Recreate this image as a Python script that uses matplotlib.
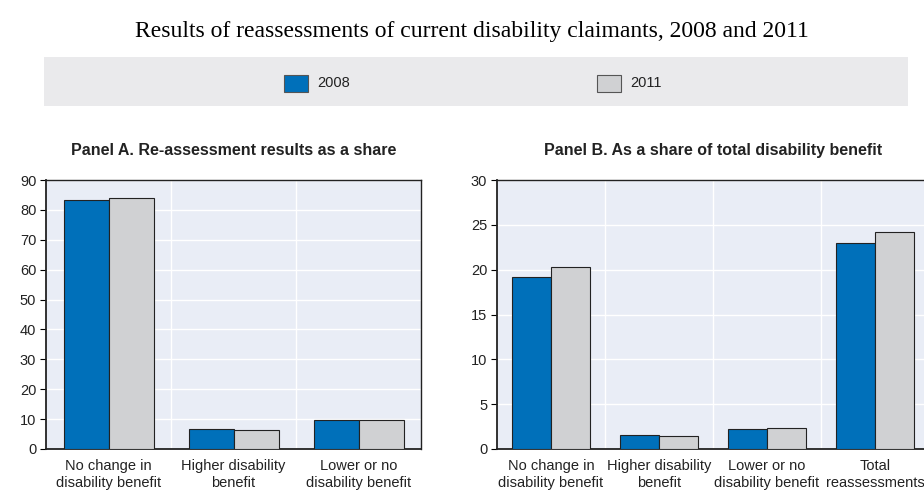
import matplotlib
matplotlib.use("Agg")
import matplotlib.pyplot as plt
from matplotlib.patches import Rectangle
import numpy as np

years = ["2008", "2011"]
cats_a = ["No change in\ndisability benefit", "Higher disability\nbenefit", "Lower or no\ndisability benefit"]
a_2008 = [83.4, 6.8, 9.8]
a_2011 = [84.1, 6.2, 9.7]
cats_b = ["No change in\ndisability benefit", "Higher disability\nbenefit", "Lower or no\ndisability benefit", "Total\nreassessments"]
b_2008 = [19.2, 1.56, 2.23, 22.95]
b_2011 = [20.35, 1.49, 2.34, 24.25]
yticks_a = [0, 10, 20, 30, 40, 50, 60, 70, 80, 90]
yticks_b = [0, 5, 10, 15, 20, 25, 30]

BLUE = "#0070BA"
GRAY = "#D0D1D3"
BG = "#E9EDF6"
SANS = ["Liberation Sans", "DejaVu Sans"]

W, H = 924, 492
fig = plt.figure(figsize=(W / 100, H / 100), dpi=100)

fig.text(472 / W, 1 - 31 / H, "Results of reassessments of current disability claimants, 2008 and 2011",
         ha="center", va="center", fontsize=17, family=["Liberation Serif", "DejaVu Serif"])

# legend band
fig.patches.append(Rectangle((44 / W, 1 - 106 / H), (908 - 44) / W, 49 / H,
                             transform=fig.transFigure, facecolor="#EAEAEC", edgecolor="none", zorder=0))
for x0, lab, col in [(284, years[0], BLUE), (597, years[1], GRAY)]:
    fig.patches.append(Rectangle((x0 / W, 1 - 92 / H), 24 / W, 17 / H, transform=fig.transFigure,
                                 facecolor=col, edgecolor="#555555", lw=0.8, zorder=2))
    fig.text((x0 + 33) / W, 1 - 83 / H, lab, ha="left", va="center", fontsize=10.5, family=SANS,
             color="#222222")


def panel(rect, cats, v1, v2, yt, title):
    ax = fig.add_axes(rect)
    n = len(cats)
    x = np.arange(n)
    w = 0.36
    ax.bar(x - w / 2, v1, w, color=BLUE, edgecolor="#222222", lw=0.8, zorder=3)
    ax.bar(x + w / 2, v2, w, color=GRAY, edgecolor="#222222", lw=0.8, zorder=3)
    ax.set_xlim(-0.5, n - 0.5)
    ax.set_ylim(yt[0], yt[-1])
    ax.set_yticks(yt)
    ax.set_facecolor(BG)
    ax.set_xticks(x)
    ax.set_xticklabels(cats, fontsize=10.5, family=SANS, linespacing=1.3, color="#222222")
    ax.set_xticks(np.arange(n - 1) + 0.5, minor=True)
    ax.grid(True, which="minor", axis="x", color="white", lw=1, zorder=1)
    ax.grid(True, which="major", axis="y", color="white", lw=1, zorder=1)
    ax.tick_params(axis="x", which="both", length=0, pad=7)
    ax.tick_params(axis="y", length=4, width=0.8, pad=3, labelsize=10.5, labelcolor="#222222")
    for lab in ax.get_yticklabels():
        lab.set_family(SANS)
    for s in ["left", "bottom"]:
        ax.spines[s].set_linewidth(1.3)
    for s in ["top", "right"]:
        ax.spines[s].set_linewidth(1.0)
    for s in ax.spines.values():
        s.set_color("#222222")
    ax.set_title(title, fontsize=11.5, fontweight="bold", family=SANS, pad=18, color="#222222")
    return ax


bottom = 1 - 449 / H
height = (449 - 180) / H
panel([46 / W, bottom, 375 / W, height], cats_a, a_2008, a_2011, yticks_a,
      "Panel A. Re-assessment results as a share")
panel([497 / W, bottom, 432 / W, height], cats_b, b_2008, b_2011, yticks_b,
      "Panel B. As a share of total disability benefit")

fig.savefig("out.png", dpi=100)
